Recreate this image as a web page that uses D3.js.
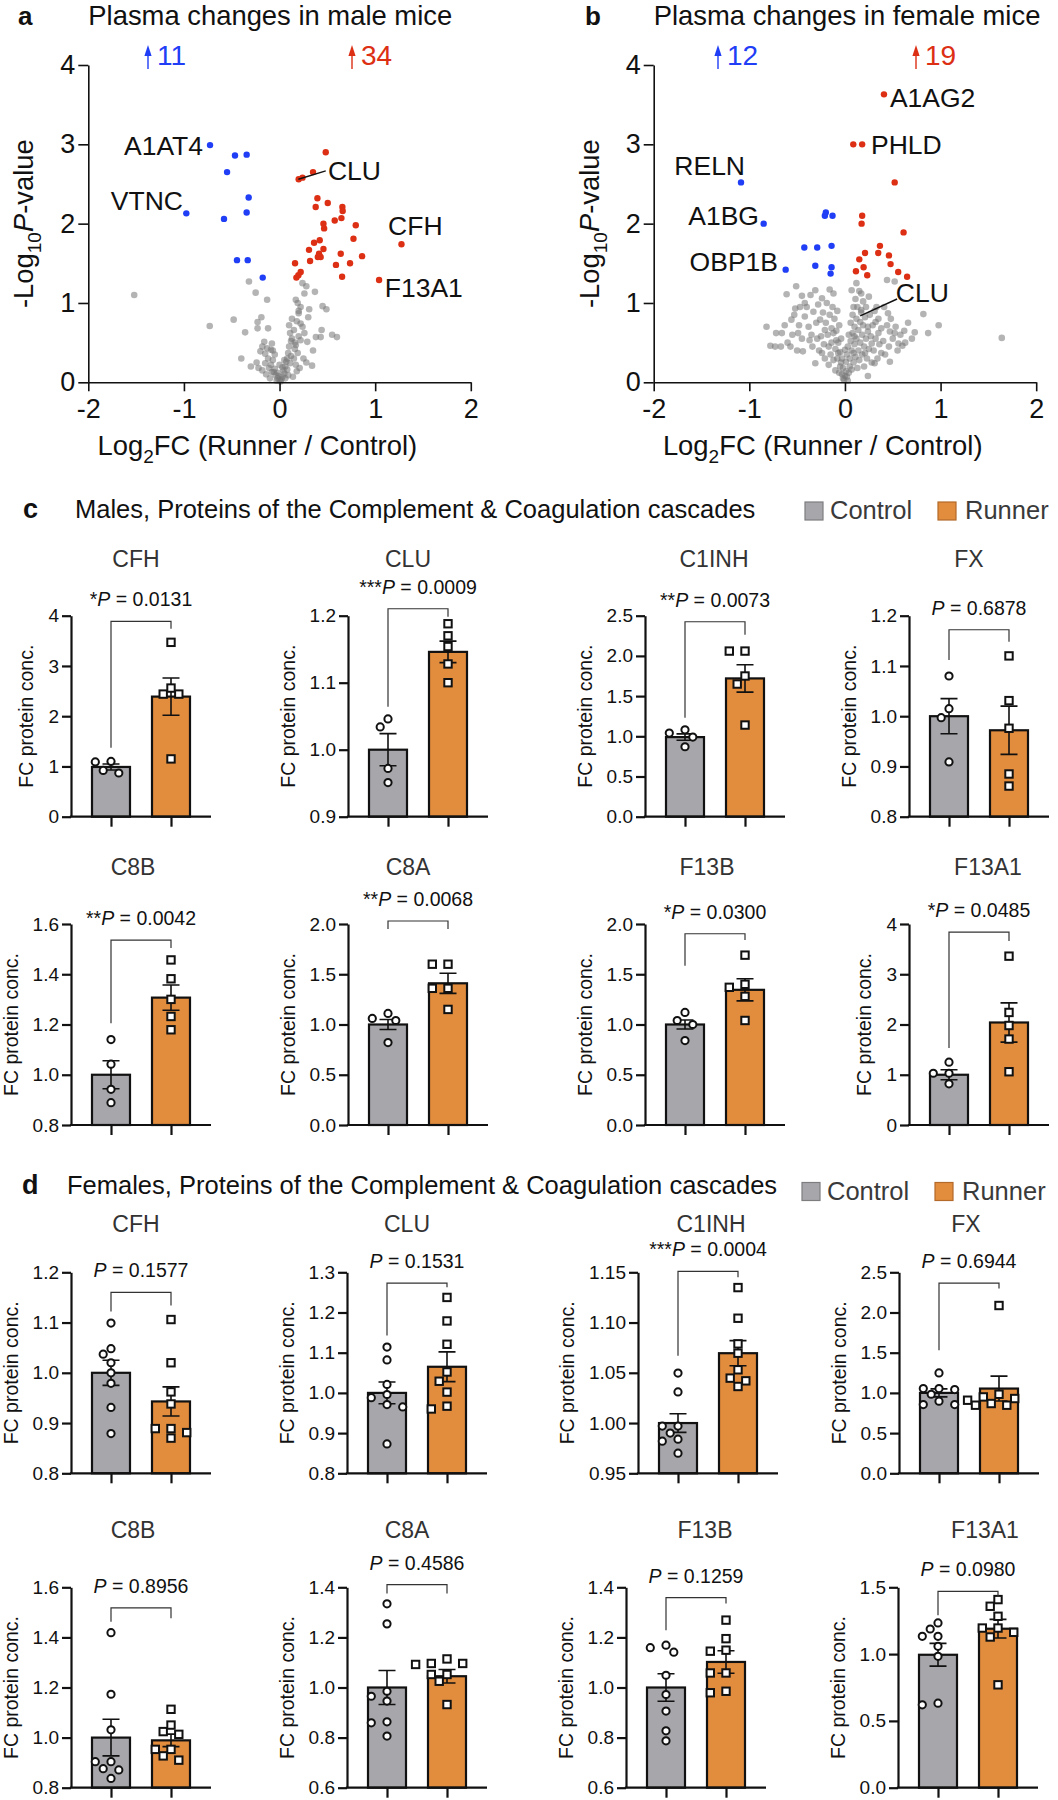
<!DOCTYPE html>
<html><head><meta charset="utf-8">
<script src="https://cdn.jsdelivr.net/npm/d3@7/dist/d3.min.js"></script>
<style>
body{margin:0;background:#fff;}
svg text{font-family:"Liberation Sans",Arial,Helvetica,sans-serif;}
</style></head><body>
<svg id="fig" width="1058" height="1800"></svg>
<script>
// ================= DATA =================
const volcanoXTicks=[-2,-1,0,1,2];
const volcanoYTicks=[0,1,2,3,4];

// Panel a (male) : [log2FC, -log10 P]
const maleBlue=[[-0.727,2.99],[-0.466,2.86],[-0.344,2.87],[-0.549,2.65],[-0.323,2.33],[-0.344,2.14],[-0.975,2.13],[-0.581,2.06],[-0.445,1.54],[-0.333,1.54],[-0.176,1.32]];
const maleRed=[[0.483,2.90],[0.350,2.65],[0.24,2.58],[0.20,2.56],[0.396,2.32],[0.378,2.21],[0.504,2.26],[0.657,2.21],[0.66,2.16],[0.577,2.04],[0.647,2.07],[0.459,2.00],[0.466,1.94],[0.797,1.98],[0.361,1.76],[0.42,1.79],[0.773,1.81],[1.275,1.74],[0.308,1.67],[0.459,1.68],[0.413,1.62],[0.43,1.58],[0.40,1.58],[0.64,1.62],[0.863,1.59],[0.319,1.53],[0.59,1.48],[0.737,1.50],[0.162,1.50],[0.221,1.39],[0.197,1.35],[0.176,1.32],[0.654,1.33],[1.041,1.29]];
const maleGray=[[-1.52,1.10],[-0.32,1.27],[-0.25,1.13],[-0.13,1.04],[-0.73,0.71],[-0.48,0.79],[-0.36,0.63],[-0.23,0.76],[-0.19,0.82],[-0.23,0.68],[-0.12,0.68],[-0.40,0.30],[-0.24,0.25],[-0.22,0.18],[-0.16,0.51],[-0.08,0.49],[-0.13,0.43],[-0.20,0.39],[-0.15,0.36],[-0.09,0.41],[-0.15,0.24],[-0.11,0.18],[-0.07,0.28],[-0.06,0.13],[-0.04,0.09],[-0.02,0.05],[0.00,0.03],[0.03,0.07],[0.05,0.11],[0.06,0.20],[0.07,0.26],[0.09,0.37],[0.10,0.45],[0.11,0.62],[0.10,0.72],[0.15,0.66],[0.13,0.55],[0.17,0.47],[0.19,0.37],[0.15,0.30],[0.14,0.07],[0.20,0.58],[0.22,0.74],[0.20,0.87],[0.19,1.00],[0.17,1.04],[0.24,1.25],[0.28,1.21],[0.26,1.12],[0.37,1.14],[0.31,0.92],[0.45,0.96],[0.49,0.92],[0.44,0.66],[0.38,0.57],[0.43,0.57],[0.55,0.60],[0.60,0.57],[0.34,0.21],[0.25,0.30],[0.29,0.51],[0.22,0.53],[0.21,0.18],[0.08,0.16],[-0.08,0.13],[-0.03,0.02],[0.01,0.01],[0.02,0.04],[-0.01,0.08],[0.04,0.15],[-0.05,0.17],[0.06,0.05],[-0.09,0.22],[0.11,0.24],[0.12,0.33],[-0.12,0.30],[0.16,0.42],[-0.18,0.45],[0.08,0.30],[-0.05,0.35],[0.13,0.80],[0.20,0.90],[0.22,0.95],[-0.02,0.12],[0.03,0.19],[-0.10,0.05],[0.09,0.09],[-0.14,0.10],[0.18,0.14],[0.00,0.22],[0.05,0.28],[-0.07,0.40],[0.16,0.50],[0.26,0.62],[0.24,0.70],[0.12,0.52],[0.18,0.77],[0.30,0.82],[0.35,0.40],[0.28,0.25],[-0.30,0.20],[-0.18,0.15],[0.17,0.22]];
const maleLabels=[{t:"A1AT4",x:-0.80,y:2.866,a:"end"},{t:"VTNC",x:-1.01,y:2.17,a:"end"},{t:"CLU",x:0.506,y:2.55,a:"start"},{t:"CFH",x:1.135,y:1.857,a:"start"},{t:"F13A1",x:1.10,y:1.076,a:"start"}];
const maleLeader=[[0.197,2.56],[0.483,2.665]];
const maleCounts=["11","34"];

// Panel b (female)
const femaleBlue=[[-1.087,2.52],[-0.85,2.00],[-0.62,1.42],[-0.20,2.14],[-0.21,2.10],[-0.13,2.10],[-0.425,1.70],[-0.29,1.70],[-0.14,1.72],[-0.31,1.47],[-0.14,1.45],[-0.15,1.37]];
const femaleRed=[[0.408,3.63],[0.087,3.0],[0.18,3.0],[0.52,2.52],[0.18,2.10],[0.174,2.00],[0.613,1.89],[0.366,1.72],[0.348,1.63],[0.21,1.63],[0.46,1.60],[0.15,1.55],[0.477,1.49],[0.195,1.45],[0.115,1.40],[0.233,1.35],[0.557,1.39],[0.65,1.33]];
const femaleGray=[[-0.82,0.70],[-0.72,0.62],[-0.78,0.46],[-0.73,0.45],[-0.66,0.62],[-0.61,1.11],[-0.51,1.21],[-0.45,1.09],[-0.52,0.93],[-0.56,0.79],[-0.57,0.45],[-0.49,0.62],[-0.44,0.39],[-0.42,0.83],[-0.37,0.53],[-0.31,1.16],[-0.33,0.89],[-0.24,1.06],[-0.26,0.79],[-0.16,1.17],[-0.12,1.12],[-0.21,0.66],[-0.17,0.45],[-0.12,0.62],[-0.07,0.37],[-0.09,0.53],[-0.05,0.20],[-0.02,0.05],[0.02,0.07],[0.05,0.20],[0.09,0.37],[0.10,0.58],[0.09,0.95],[0.07,1.16],[0.12,1.25],[0.17,1.12],[0.16,0.76],[0.24,0.64],[0.28,0.49],[0.21,0.37],[0.35,0.62],[0.32,0.76],[0.38,0.37],[0.45,0.87],[0.44,1.29],[0.52,1.27],[0.47,0.64],[0.52,0.62],[0.62,0.65],[0.56,0.49],[0.60,0.46],[0.47,0.26],[0.73,0.63],[0.82,0.86],[0.87,0.62],[0.98,0.72],[1.64,0.56],[0.24,0.08],[0.31,0.24],[-0.31,0.24],[-0.24,0.37],[0.33,0.95],[0.17,0.91],[0.00,0.41],[-0.40,0.95],[-0.38,0.70],[-0.35,0.60],[-0.34,0.45],[-0.30,0.75],[-0.29,0.55],[-0.28,0.98],[-0.27,0.40],[-0.25,0.58],[-0.23,0.88],[-0.22,0.48],[-0.21,0.30],[-0.20,0.75],[-0.19,1.00],[-0.18,0.60],[-0.17,0.22],[-0.16,0.85],[-0.15,0.35],[-0.14,0.68],[-0.14,0.50],[-0.13,0.95],[-0.12,0.28],[-0.11,0.80],[-0.10,0.42],[-0.10,0.15],[-0.09,0.65],[-0.08,0.30],[-0.08,0.90],[-0.07,0.50],[-0.06,0.12],[-0.06,0.72],[-0.05,0.38],[-0.04,0.25],[-0.04,0.55],[-0.03,0.10],[-0.03,0.30],[-0.02,0.18],[-0.01,0.03],[0.00,0.08],[0.01,0.14],[0.01,0.26],[0.02,0.35],[0.03,0.02],[0.03,0.45],[0.04,0.12],[0.04,0.60],[0.05,0.30],[0.06,0.52],[0.06,0.75],[0.07,0.16],[0.07,0.40],[0.08,0.85],[0.08,0.62],[0.09,0.25],[0.10,0.48],[0.10,0.70],[0.11,1.05],[0.11,0.32],[0.12,0.55],[0.12,0.80],[0.13,0.18],[0.13,0.95],[0.14,0.40],[0.14,0.66],[0.15,1.15],[0.15,0.28],[0.16,0.50],[0.17,0.88],[0.18,0.60],[0.18,0.35],[0.19,0.72],[0.19,1.02],[0.20,0.45],[0.20,0.20],[0.21,0.82],[0.22,0.55],[0.22,0.95],[0.23,0.30],[0.24,0.70],[0.25,1.08],[0.25,0.42],[0.26,0.85],[0.27,0.58],[0.28,0.25],[0.29,0.72],[0.30,0.40],[0.31,0.90],[0.32,0.55],[0.34,0.30],[0.35,0.80],[0.36,0.48],[0.38,0.68],[0.40,0.52],[0.41,0.95],[0.42,0.35],[0.44,0.72],[0.46,0.45],[0.48,0.80],[0.50,0.55],[0.53,0.70],[0.55,0.40],[0.58,0.60],[0.63,0.50],[0.66,0.75],[0.70,0.55],[-0.45,0.55],[-0.48,0.72],[-0.50,0.40],[-0.53,0.85],[-0.55,0.60],[-0.60,0.50],[-0.63,0.72],[-0.67,0.45],[-0.42,1.00],[-0.36,1.10],[-0.47,0.95]];
const femaleLabels=[{t:"A1AG2",x:0.47,y:3.47,a:"start"},{t:"PHLD",x:0.272,y:2.88,a:"start"},{t:"RELN",x:-1.045,y:2.615,a:"end"},{t:"A1BG",x:-0.899,y:1.986,a:"end"},{t:"OBP1B",x:-0.70,y:1.406,a:"end"},{t:"CLU",x:0.532,y:1.013,a:"start"}];
const femaleLeader=[[0.16,0.836],[0.545,1.05]];
const femaleCounts=["12","19"];

// Bar panels
const proteins=["CFH","CLU","C1INH","FX","C8B","C8A","F13B","F13A1"];
const groups=["Control","Runner"];

const maleCtrlMean=[0.99,1.00,0.99,1.00,1.00,1.00,1.00,1.00];
const maleCtrlSem=[0.06,0.024,0.04,0.035,0.056,0.05,0.045,0.10];
const maleRunMean=[2.39,1.146,1.72,0.972,1.307,1.41,1.345,2.04];
const maleRunSem=[0.37,0.016,0.17,0.048,0.05,0.10,0.11,0.39];
const maleCtrlPts=[[1.09,1.10,0.87,0.92],[1.046,1.034,0.972,0.951],[1.08,0.99,0.87,1.04],[1.08,1.015,0.997,0.909],[1.14,1.042,0.942,0.889],[1.04,1.06,1.11,0.82],[1.04,1.12,1.0,0.84],[1.25,1.03,1.03,0.82]];
const maleRunPts=[[3.47,2.56,2.44,2.44,1.15],[1.188,1.17,1.154,1.128,1.10],[2.06,2.06,1.75,1.65,1.14],[1.12,1.031,0.976,0.885,0.861],[1.457,1.382,1.30,1.232,1.179],[1.60,1.60,1.36,1.36,1.15],[1.69,1.37,1.40,1.28,1.04],[3.36,2.24,1.98,1.71,1.06]];
const maleStars=["*","***","**","","**","**","*","*"];
const maleP=["0.0131","0.0009","0.0073","0.6878","0.0042","0.0068","0.0300","0.0485"];
const maleDomain=[[0,4],[0.9,1.2],[0,2.5],[0.8,1.2],[0.8,1.6],[0,2],[0,2],[0,4]];
const maleStep=[1,0.1,0.5,0.1,0.2,0.5,0.5,1];
const maleFmt=["d",".1f",".1f",".1f",".1f",".1f",".1f","d"];
// bracket levels in data units: [top, left leg end, right leg end]
const maleBracket=[[3.887,1.373,3.74],[1.2104,1.064,1.1985],[2.425,1.231,2.264],[1.172,1.112,1.148],[1.536,1.205,1.504],[2.03,1.95,1.95],[1.903,1.585,1.841],[3.84,1.53,3.66]];

const femaleCtrlMean=[1.0,1.0,1.0,1.0,1.0,1.0,1.0,0.995];
const femaleCtrlSem=[0.025,0.027,0.0093,0.05,0.073,0.068,0.055,0.085];
const femaleRunMean=[0.943,1.065,1.0695,1.054,0.989,1.045,1.102,1.19];
const femaleRunSem=[0.029,0.037,0.0125,0.155,0.025,0.027,0.045,0.07];
const femaleCtrlPts=[[1.099,1.048,1.037,1.02,1.0,0.979,0.931,0.879],[1.114,1.082,1.021,0.988,0.996,0.965,0.971,0.873],[1.0497,1.031,0.997,0.997,0.990,0.984,0.982,0.970],[1.248,1.041,1.054,1.054,0.855,0.897,0.855,0.983],[1.419,1.173,1.031,0.904,0.904,0.876,0.871,0.837],[1.334,1.254,0.965,0.985,0.946,0.863,0.859,0.806],[1.169,1.141,1.159,1.049,0.972,0.906,0.827,0.787],[1.233,1.188,1.133,1.133,1.058,0.983,0.62,0.633]];
const femaleRunPts=[[1.106,1.02,0.962,0.938,0.889,0.870,0.889,0.881],[1.2375,1.179,1.121,1.052,1.029,1.002,0.96,0.967],[1.1348,1.1043,1.0788,1.0695,1.053,1.042,1.0447,1.0364],[2.087,0.909,0.95,0.983,0.847,0.868,0.847,0.93],[1.113,1.024,1.05,1.013,0.953,0.953,0.91,0.927],[1.096,1.114,1.096,1.092,1.052,1.052,1.025,0.932],[1.269,1.195,1.145,1.149,1.058,1.058,0.979,0.985],[1.408,1.358,1.283,1.195,1.195,1.163,1.128,0.77]];
const femaleStars=["","","***","","","","",""];
const femaleP=["0.1577","0.1531","0.0004","0.6944","0.8956","0.4586","0.1259","0.0980"];
const femaleDomain=[[0.8,1.2],[0.8,1.3],[0.95,1.15],[0,2.5],[0.8,1.6],[0.6,1.4],[0.6,1.4],[0,1.5]];
const femaleStep=[0.1,0.1,0.05,0.5,0.2,0.2,0.2,0.5];
const femaleFmt=[".1f",".1f",".2f",".1f",".1f",".1f",".1f",".1f"];
const femaleBracket=[[1.16,1.122,1.134],[1.273,1.143,1.263],[1.151,1.067,1.145],[2.366,1.53,2.30],[1.518,1.462,1.476],[1.411,1.375,1.375],[1.359,1.229,1.335],[1.47,1.291,1.428]];

// ================= DRAWING =================
const svg=d3.select("#fig");
const INK="#111";
const BLUE="#1f3ef5", RED="#dc2f14";
const CTRL="#a7a7ab", RUN="#e28c3d";

function styleAxis(a,sw,fs){
  a.select(".domain").attr("stroke",INK).attr("stroke-width",sw);
  a.selectAll(".tick line").attr("stroke",INK).attr("stroke-width",sw);
  a.selectAll(".tick text").attr("font-size",fs).attr("fill",INK);
}

function volcano(o){
  const g=svg.append("g");
  const x=d3.scaleLinear().domain([-2,2]).range([o.x0,o.x0+382.5]);
  const y=d3.scaleLinear().domain([0,4]).range([382.3,65]);
  const dots=(data,fill,op,r)=>g.append("g").selectAll("circle").data(data).join("circle")
    .attr("cx",d=>x(d[0])).attr("cy",d=>y(d[1])).attr("r",r).attr("fill",fill).attr("fill-opacity",op);
  dots(o.gray,"#777",0.55,3.3);
  dots(o.blue,BLUE,1,3.2);
  dots(o.red,RED,1,3.2);
  g.append("line").attr("x1",x(o.leader[0][0])).attr("y1",y(o.leader[0][1])).attr("x2",x(o.leader[1][0])).attr("y2",y(o.leader[1][1])).attr("stroke",INK).attr("stroke-width",1.4);
  const ya=g.append("g").attr("transform",`translate(${o.x0},0)`)
    .call(d3.axisLeft(y).tickValues(volcanoYTicks).tickSize(10).tickSizeOuter(0).tickPadding(3).tickFormat(d=>String(d)));
  const xa=g.append("g").attr("transform",`translate(0,${y(0)})`)
    .call(d3.axisBottom(x).tickValues(volcanoXTicks).tickSize(9).tickSizeOuter(0).tickPadding(8).tickFormat(d=>String(d)));
  styleAxis(ya,1.6,27); styleAxis(xa,1.6,27);
  // labels
  g.selectAll("text.lab").data(o.labels).join("text").attr("class","lab")
    .attr("x",d=>x(d.x)).attr("y",d=>y(d.y)).attr("text-anchor",d=>d.a)
    .attr("font-size",26.5).attr("fill",INK).text(d=>d.t);
  // titles
  g.append("text").attr("x",o.letterX).attr("y",25).attr("font-size",26).attr("font-weight","bold").attr("fill",INK).text(o.letter);
  g.append("text").attr("x",o.x0).attr("y",25).attr("font-size",27.4).attr("fill",INK).text(o.title);
  // counts: thin up-arrow + number
  [[o.cx[0],BLUE,o.counts[0]],[o.cx[1],RED,o.counts[1]]].forEach(([cx,col,t])=>{
    const ac=cx+5;
    g.append("path").attr("d",`M${ac},69V52`).attr("stroke",col).attr("stroke-width",1.4).attr("fill","none");
    g.append("path").attr("d",`M${ac-3.6},56L${ac},45L${ac+3.6},56Z`).attr("fill",col);
    g.append("text").attr("x",cx+14).attr("y",65).attr("font-size",28).attr("fill",col).text(t);
  });
  // axis titles
  const xt=g.append("text").attr("x",o.x0+169).attr("y",455).attr("text-anchor","middle").attr("font-size",27.4).attr("fill",INK);
  xt.append("tspan").text("Log");
  xt.append("tspan").attr("font-size",19).attr("dy",8).text("2");
  xt.append("tspan").attr("dy",-8).text("FC (Runner / Control)");
  const yt=g.append("text").attr("transform",`translate(${o.x0-55},${(y(0)+y(4))/2}) rotate(-90)`).attr("text-anchor","middle").attr("font-size",27.4).attr("fill",INK);
  yt.append("tspan").text("-Log");
  yt.append("tspan").attr("font-size",19).attr("dy",8).text("10");
  yt.append("tspan").attr("dy",-8).attr("font-style","italic").text("P");
  yt.append("tspan").text("-value");
}

volcano({x0:88.3,gray:maleGray,blue:maleBlue,red:maleRed,labels:maleLabels,leader:maleLeader,counts:maleCounts,cx:[143,347],letter:"a",letterX:18,title:"Plasma changes in male mice"});
volcano({x0:653.7,gray:femaleGray,blue:femaleBlue,red:femaleRed,labels:femaleLabels,leader:femaleLeader,counts:femaleCounts,cx:[713,911],letter:"b",letterX:585,title:"Plasma changes in female mice"});

// --------- bar sections ---------
const sections=[
 {letter:"c",title:"Males, Proteins of the Complement & Coagulation cascades",letterX:23,titleX:75,headY:518,legendX:805,legendY:502,
  ctrlMean:maleCtrlMean,ctrlSem:maleCtrlSem,runMean:maleRunMean,runSem:maleRunSem,ctrlPts:maleCtrlPts,runPts:maleRunPts,
  stars:maleStars,p:maleP,domain:maleDomain,step:maleStep,fmt:maleFmt,bracket:maleBracket,
  rows:[{y0:615.7,y1:816.7,titleY:567,ax:[71,348,645,909],titleX:[136,408,714,969]},
        {y0:924,y1:1125,titleY:875,ax:[71,348,645,909],titleX:[133,408,707,988]}]},
 {letter:"d",title:"Females, Proteins of the Complement & Coagulation cascades",letterX:22,titleX:67,headY:1194,legendX:802,legendY:1182.5,
  ctrlMean:femaleCtrlMean,ctrlSem:femaleCtrlSem,runMean:femaleRunMean,runSem:femaleRunSem,ctrlPts:femaleCtrlPts,runPts:femaleRunPts,
  stars:femaleStars,p:femaleP,domain:femaleDomain,step:femaleStep,fmt:femaleFmt,bracket:femaleBracket,
  rows:[{y0:1272.3,y1:1473.3,titleY:1232,ax:[71,347,638,899],titleX:[136,407,711,966]},
        {y0:1587.3,y1:1787.7,titleY:1538,ax:[71,347,626,898],titleX:[133,407,705,985]}]}
];

function swarm(vals,cx,y){
  const placed=[]; const slots=[0,-7.8,7.8,-15.7,15.7,-23.5,23.5,-31.4,31.4];
  const order=vals.map((v,i)=>i).sort((a,b)=>vals[b]-vals[a]);
  const out=new Array(vals.length);
  order.forEach(i=>{
    const py=y(vals[i]);
    for(const s of slots){
      const px=cx+s;
      if(placed.every(p=>Math.hypot(p[0]-px,p[1]-py)>=9.3)){placed.push([px,py]);out[i]=[px,py];break;}
    }
    if(!out[i]){out[i]=[cx,py];}
  });
  return out;
}

function barPanel(sec,i,row,col){
  const ax=row.ax[col], y0=row.y0, y1=row.y1;
  const dom=sec.domain[i], step=sec.step[i], fmt=d3.format(sec.fmt[i]);
  const x=d3.scalePoint().domain(groups).range([ax+40,ax+100]);
  const y=d3.scaleLinear().domain(dom).range([y1,y0]);
  const g=svg.append("g");
  const means=[sec.ctrlMean[i],sec.runMean[i]], sems=[sec.ctrlSem[i],sec.runSem[i]], pts=[sec.ctrlPts[i],sec.runPts[i]];
  const cols=[CTRL,RUN];
  g.selectAll("rect").data(groups).join("rect")
    .attr("x",d=>x(d)-19).attr("width",38)
    .attr("y",(d,k)=>y(means[k])).attr("height",(d,k)=>y(dom[0])-y(means[k]))
    .attr("fill",(d,k)=>cols[k]).attr("stroke",INK).attr("stroke-width",2.2);
  // error bars
  groups.forEach((gr,k)=>{
    const cx=x(gr), hi=y(means[k]+sems[k]), lo=y(means[k]-sems[k]);
    g.append("path").attr("d",`M${cx},${hi}V${lo}M${cx-8.5},${hi}H${cx+8.5}M${cx-8.5},${lo}H${cx+8.5}`)
      .attr("stroke",INK).attr("stroke-width",1.6).attr("fill","none");
  });
  // points
  groups.forEach((gr,k)=>{
    const pos=swarm(pts[k],x(gr),y);
    if(k===0){
      g.append("g").selectAll("circle").data(pos).join("circle").attr("cx",d=>d[0]).attr("cy",d=>d[1]).attr("r",3.6)
        .attr("fill","#fff").attr("stroke",INK).attr("stroke-width",2);
    } else {
      g.append("g").selectAll("rect").data(pos).join("rect").attr("x",d=>d[0]-3.7).attr("y",d=>d[1]-3.7).attr("width",7.4).attr("height",7.4)
        .attr("fill","#fff").attr("stroke",INK).attr("stroke-width",2);
    }
  });
  // axes
  const n=Math.round((dom[1]-dom[0])/step);
  const ticks=d3.range(0,n+1).map(k=>+(dom[0]+k*step).toFixed(4));
  const ya=g.append("g").attr("transform",`translate(${ax},0)`)
    .call(d3.axisLeft(y).tickValues(ticks).tickSize(9).tickSizeOuter(0).tickPadding(3).tickFormat(fmt));
  styleAxis(ya,2.2,19);
  const xa=g.append("g").attr("transform",`translate(0,${y1})`)
    .call(d3.axisBottom(x).tickSize(10).tickSizeOuter(0).tickFormat(""));
  styleAxis(xa,2.2,19);
  xa.select(".domain").remove();
  g.append("line").attr("x1",ax-1.1).attr("x2",ax+140).attr("y1",y1).attr("y2",y1).attr("stroke",INK).attr("stroke-width",2.2);
  // y label
  let maxW=0; ya.selectAll(".tick text").each(function(){maxW=Math.max(maxW,this.getComputedTextLength());});
  g.append("text").attr("transform",`translate(${ax-12-maxW-15},${(y0+y1)/2}) rotate(-90)`)
    .attr("text-anchor","middle").attr("font-size",19.5).attr("fill",INK).text("FC protein conc.");
  // title
  g.append("text").attr("x",row.titleX[col]).attr("y",row.titleY).attr("text-anchor","middle").attr("font-size",23).attr("fill","#333").text(proteins[i]);
  // bracket
  const br=sec.bracket[i], xl=x("Control"), xr=x("Runner");
  g.append("path").attr("d",`M${xl},${y(br[1])}V${y(br[0])}H${xr}V${y(br[2])}`).attr("fill","none").attr("stroke","#333").attr("stroke-width",1.2);
  const pt=g.append("text").attr("x",(xl+xr)/2).attr("y",y(br[0])-15).attr("text-anchor","middle").attr("font-size",19.5).attr("fill",INK);
  if(sec.stars[i]) pt.append("tspan").text(sec.stars[i]);
  pt.append("tspan").attr("font-style","italic").text("P");
  pt.append("tspan").text(" = "+sec.p[i]);
}

sections.forEach(sec=>{
  svg.append("text").attr("x",sec.letterX).attr("y",sec.headY).attr("font-size",27).attr("font-weight","bold").attr("fill",INK).text(sec.letter);
  svg.append("text").attr("x",sec.titleX).attr("y",sec.headY).attr("font-size",25.5).attr("fill",INK).text(sec.title);
  const lg=svg.append("g");
  groups.forEach((gr,k)=>{
    const lx=sec.legendX+k*133;
    lg.append("rect").attr("x",lx).attr("y",sec.legendY).attr("width",18).attr("height",18)
      .attr("fill",k?RUN:CTRL).attr("stroke",k?"#b36a2a":"#7d7d80").attr("stroke-width",1.2);
    lg.append("text").attr("x",lx+25+(k?2:0)).attr("y",sec.legendY+17).attr("font-size",25.5).attr("fill","#3a3a3a").text(gr);
  });
  sec.rows.forEach((row,r)=>{
    for(let c=0;c<4;c++) barPanel(sec,r*4+c,row,c);
  });
});
</script></body></html>
